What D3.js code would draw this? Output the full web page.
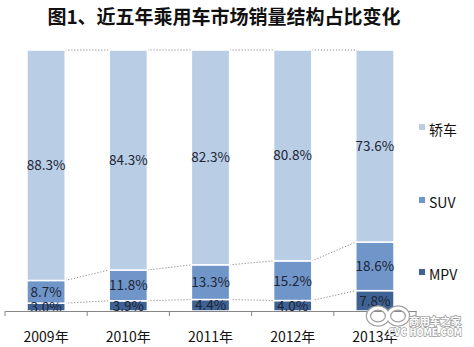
<!DOCTYPE html>
<html>
<head>
<meta charset="utf-8">
<script src="https://cdn.jsdelivr.net/npm/d3@7"></script>
<style>
  html, body { margin: 0; padding: 0; background: #fff; }
  svg { display: block; }
</style>
</head>
<body>
<svg id="chart" width="474" height="347"></svg>
<script>
// Passenger-car sales mix by segment, 2009–2013 (%)
const years = ["2009年", "2010年", "2011年", "2012年", "2013年"];
const seriesNames = ["MPV", "SUV", "轿车"];
const mpv = [3.0, 3.9, 4.4, 4.0, 7.8];
const suv = [8.7, 11.8, 13.3, 15.2, 18.6];
const sedan = [88.3, 84.3, 82.3, 80.8, 73.6];
const colors = ["#3f6294", "#7095c9", "#b9cde5"];

const svg = d3.select("#chart");
const fontCN = "'Noto Sans CJK SC', 'Noto Sans', sans-serif";

// Title
svg.append("text")
  .attr("x", 224).attr("y", 24)
  .attr("text-anchor", "middle")
  .attr("font-family", fontCN)
  .attr("font-weight", "bold")
  .attr("font-size", 19)
  .attr("fill", "#111")
  .text("图1、近五年乘用车市场销量结构占比变化");

const x = d3.scaleBand().domain(years).range([5, 416])
  .paddingInner(0.535).paddingOuter(0.2675);
const y = d3.scaleLinear().domain([0, 100]).range([311, 50]);

const rows = years.map((yr, i) => ({ year: yr, MPV: mpv[i], SUV: suv[i], "轿车": sedan[i] }));
const stacked = d3.stack().keys(seriesNames)(rows);

// Series lines joining the tops of each segment between neighbouring bars
const lineG = svg.append("g");
stacked.forEach(layer => {
  for (let i = 0; i < layer.length - 1; i++) {
    lineG.append("line")
      .attr("x1", x(years[i]) + x.bandwidth())
      .attr("y1", y(layer[i][1]))
      .attr("x2", x(years[i + 1]))
      .attr("y2", y(layer[i + 1][1]))
      .attr("stroke", "#8c8c8c")
      .attr("stroke-width", 1)
      .attr("stroke-dasharray", "1.2,1.8");
  }
});

// Stacked bars
const barG = svg.append("g");
stacked.forEach((layer, k) => {
  barG.selectAll(null).data(layer).enter().append("rect")
    .attr("x", (d, i) => x(years[i]))
    .attr("width", x.bandwidth())
    .attr("y", d => y(d[1]))
    .attr("height", d => y(d[0]) - y(d[1]))
    .attr("fill", colors[k])
    .attr("stroke", "#fff")
    .attr("stroke-width", 1.5);
});

// Value labels centred in each segment
stacked.forEach(layer => {
  svg.selectAll(null).data(layer).enter().append("text")
    .attr("x", (d, i) => x(years[i]) + x.bandwidth() / 2)
    .attr("y", d => (y(d[0]) + y(d[1])) / 2)
    .attr("dy", "0.36em")
    .attr("text-anchor", "middle")
    .attr("font-family", fontCN)
    .attr("font-size", 13.5)
    .attr("fill", "#1c2535")
    .text(d => (d[1] - d[0]).toFixed(1) + "%");
});

// Category axis
const axis = d3.axisBottom(x).tickSize(0).tickPadding(0);
const axG = svg.append("g").attr("transform", "translate(0,311)").call(axis);
axG.select(".domain").attr("stroke", "#868686");
axG.selectAll(".tick text").remove();
const bounds = d3.range(years.length + 1).map(i => x.range()[0] + i * x.step());
axG.selectAll("line.bound").data(bounds).enter().append("line")
  .attr("class", "bound")
  .attr("x1", d => d).attr("x2", d => d)
  .attr("y1", 0).attr("y2", 5)
  .attr("stroke", "#868686");
svg.selectAll(null).data(years).enter().append("text")
  .attr("x", d => x(d) + x.bandwidth() / 2)
  .attr("y", 342)
  .attr("text-anchor", "middle")
  .attr("font-family", fontCN)
  .attr("font-size", 14)
  .attr("fill", "#111")
  .text(d => d);

// Legend (top to bottom: 轿车, SUV, MPV)
const legendY = { "轿车": 130, "SUV": 203, "MPV": 275 };
seriesNames.forEach((name, k) => {
  const cy = legendY[name];
  svg.append("rect")
    .attr("x", 419).attr("y", cy - 6)
    .attr("width", 6).attr("height", 6)
    .attr("fill", colors[k]);
  svg.append("text")
    .attr("x", 429).attr("y", cy)
    .attr("dy", "0.36em")
    .attr("font-family", fontCN)
    .attr("font-size", 14)
    .attr("fill", "#111")
    .text(name);
});

// Site mark in the lower-right corner
const mark = svg.append("g");
const loops = [[378, 316], [398, 316]];
loops.forEach(([cx, cy]) => {
  mark.append("ellipse").attr("cx", cx).attr("cy", cy).attr("rx", 9.5).attr("ry", 8)
    .attr("fill", "none").attr("stroke", "#a0a0a0").attr("stroke-width", 5.5);
});
loops.forEach(([cx, cy]) => {
  mark.append("ellipse").attr("cx", cx).attr("cy", cy).attr("rx", 9.5).attr("ry", 8)
    .attr("fill", "none").attr("stroke", "#fff").attr("stroke-width", 3);
});
mark.append("text")
  .attr("x", 409).attr("y", 325)
  .attr("textLength", 52).attr("lengthAdjust", "spacingAndGlyphs")
  .attr("font-family", fontCN).attr("font-size", 10.5).attr("font-weight", "bold")
  .attr("fill", "#fff").attr("stroke", "#9a9a9a").attr("stroke-width", 1.5)
  .attr("paint-order", "stroke")
  .text("商用车之家");
mark.append("text")
  .attr("x", 388).attr("y", 336)
  .attr("textLength", 74).attr("lengthAdjust", "spacingAndGlyphs")
  .attr("font-family", "'DejaVu Sans', sans-serif").attr("font-size", 10.5).attr("font-weight", "bold")
  .attr("fill", "#fff").attr("stroke", "#9a9a9a").attr("stroke-width", 1.5)
  .attr("paint-order", "stroke")
  .text("CVC HOME.COM");
</script>
</body>
</html>
